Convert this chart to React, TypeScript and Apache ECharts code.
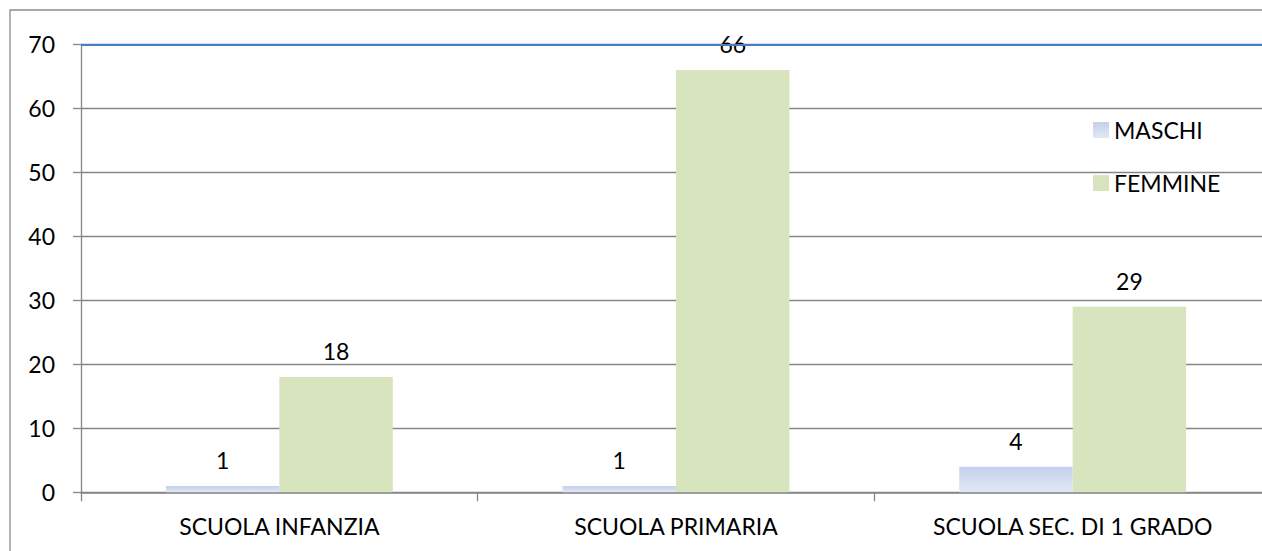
import React, { useEffect, useRef } from "react";
import * as echarts from "echarts";

const categories = ["SCUOLA INFANZIA", "SCUOLA PRIMARIA", "SCUOLA SEC. DI 1 GRADO"];
const maschi = [1, 1, 4];
const femmine = [18, 66, 29];
const seriesNames = ["MASCHI", "FEMMINE"];
const yTicks = { min: 0, max: 70, interval: 10 };

const FONT = "Lato, 'Noto Sans', sans-serif";
const GRAY = "#868686";

export default function App() {
  const ref = useRef<HTMLDivElement>(null);
  useEffect(() => {
    if (!ref.current) return;
    const chart = echarts.init(ref.current, undefined, { renderer: "svg" });
    const labelStyle = {
      show: true,
      position: "top" as const,
      distance: 14,
      color: "#000",
      fontFamily: FONT,
      fontSize: 23,
      lineHeight: 24,
    };
    chart.setOption({
      animation: false,
      backgroundColor: "#fff",
      textStyle: { fontFamily: FONT },
      graphic: [
        {
          type: "polyline",
          shape: { points: [[10, 700], [10, 10], [1390, 10]] },
          style: { fill: "none", stroke: "#8c8c8c", lineWidth: 1.3 },
          silent: true,
          z: 100,
        },
      ],
      grid: {
        left: 81,
        top: 44.3,
        width: 1190,
        height: 448,
        containLabel: false,
        outerBoundsMode: "none",
      },
      legend: {
        orient: "vertical",
        left: 1088,
        top: 113,
        itemWidth: 16,
        itemHeight: 16,
        itemGap: 29,
        icon: "rect",
        data: seriesNames,
        textStyle: { fontFamily: FONT, fontSize: 23, color: "#000", lineHeight: 24 },
      },
      xAxis: {
        type: "category",
        data: categories,
        boundaryGap: true,
        axisLine: { show: true, lineStyle: { color: GRAY, width: 1.5 } },
        axisTick: { show: true, length: 9, lineStyle: { color: GRAY, width: 1.3 } },
        axisLabel: { margin: 22, color: "#000", fontFamily: FONT, fontSize: 23, lineHeight: 24 },
        splitLine: { show: false },
      },
      yAxis: {
        type: "value",
        min: yTicks.min,
        max: yTicks.max,
        interval: yTicks.interval,
        axisLine: { show: true, lineStyle: { color: GRAY, width: 1.3 } },
        axisTick: { show: true, length: 8, lineStyle: { color: GRAY, width: 1.3 } },
        axisLabel: { margin: 26, color: "#000", fontFamily: FONT, fontSize: 23 },
        splitLine: {
          show: true,
          lineStyle: {
            color: [GRAY, GRAY, GRAY, GRAY, GRAY, GRAY, GRAY, "#4a7ebb"],
            width: 1.3,
          },
        },
      },
      series: [
        {
          name: seriesNames[0],
          type: "bar",
          data: maschi,
          barGap: "0%",
          barCategoryGap: "42.8%",
          itemStyle: {
            color: new echarts.graphic.LinearGradient(0, 0, 0, 1, [
              { offset: 0, color: "#c3d0eb" },
              { offset: 1, color: "#e2e8f5" },
            ]),
          },
          label: labelStyle,
          markLine: {
            silent: true,
            symbol: "none",
            label: { show: false },
            lineStyle: { color: "#4a7ebb", width: 2, type: "solid" },
            data: [{ yAxis: 70 }],
          },
        },
        {
          name: seriesNames[1],
          type: "bar",
          data: femmine,
          barGap: "0%",
          barCategoryGap: "42.8%",
          itemStyle: { color: "#d7e4bd" },
          label: labelStyle,
        },
      ],
    });
    return () => chart.dispose();
  }, []);
  return (
    <div style={{ position: "fixed", left: 0, top: 0, width: 1262, height: 551, overflow: "hidden", background: "#fff" }}>
      <div ref={ref} style={{ width: 1400, height: 551 }} />
    </div>
  );
}
